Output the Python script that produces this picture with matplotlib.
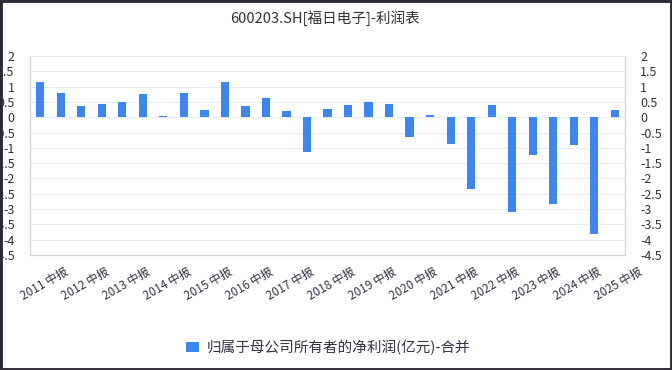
import matplotlib
matplotlib.use("Agg")
import matplotlib.pyplot as plt
from matplotlib.patches import Rectangle, FancyBboxPatch
import numpy as np

plt.rcParams['font.family'] = ['Noto Sans CJK SC', 'DejaVu Sans']
plt.rcParams['axes.unicode_minus'] = False

title = "600203.SH[福日电子]-利润表"
series_name = "归属于母公司所有者的净利润(亿元)-合并"
periods = []
for y in range(2011, 2025):
    periods += [f"{y} 中报", f"{y} 年报"]
periods += ["2025 中报"]
values = [1.16, 0.78, 0.38, 0.42, 0.50, 0.75, 0.05, 0.78, 0.24, 1.16,
          0.36, 0.63, 0.20, -1.13, 0.28, 0.40, 0.49, 0.42, -0.65, 0.07,
          -0.89, -2.33, 0.41, -3.11, -1.23, -2.84, -0.92, -3.82, 0.22]
yticks = [2, 1.5, 1, 0.5, 0, -0.5, -1, -1.5, -2, -2.5, -3, -3.5, -4, -4.5]

W, H = 672, 370
fig = plt.figure(figsize=(W / 100, H / 100), dpi=100)
ax = fig.add_axes([30 / W, 1 - 255 / H, (625 - 30) / W, (255 - 56) / H])

bar_color = "#3b86f0"
x = np.arange(len(periods))
ax.bar(x, values, width=0.4, color=bar_color, zorder=3)

ax.set_xlim(-0.5, len(periods) - 0.5)
ax.set_ylim(-4.5, 2)
ax.set_yticks(yticks)
ax.set_yticklabels([f"{t:g}" for t in yticks])
ax.grid(axis='y', color="#e9edf2", linewidth=0.8, zorder=0)
ax.tick_params(axis='y', length=0, labelsize=9, colors="#333333", pad=11,
               labelright=True, right=False)
ax.tick_params(axis='x', length=0)
ax.set_xticks(x[::2])
ax.set_xticklabels([])
for xi, lab in zip(x[::2], periods[::2]):
    ax.annotate(lab, xy=(xi, 0), xycoords=('data', 'axes fraction'),
                xytext=(3, -7.5), textcoords='offset points', ha='center', va='top',
                rotation=30, fontsize=8.5, color="#333344")

for side in ['left', 'bottom', 'right']:
    ax.spines[side].set_color("#cfd3da")
    ax.spines[side].set_linewidth(0.9)
ax.spines['top'].set_visible(False)

fig.text(325 / W, 1 - 18 / H, title, ha='center', va='center', fontsize=10.5, color="#333333")

handle = Rectangle((0, 0), 1, 1, facecolor=bar_color, edgecolor='none')
fig.legend([handle], [series_name], loc='center', bbox_to_anchor=(328 / W, 1 - 347 / H),
           frameon=False, fontsize=10.5, handlelength=0.9, handleheight=0.7,
           handletextpad=0.5, labelcolor="#333344")

fig.patches.append(Rectangle((0, 0), 1, 1, transform=fig.transFigure, fill=False,
                             edgecolor="#2e2832", linewidth=3.5))

fig.savefig("out.png", dpi=100)
